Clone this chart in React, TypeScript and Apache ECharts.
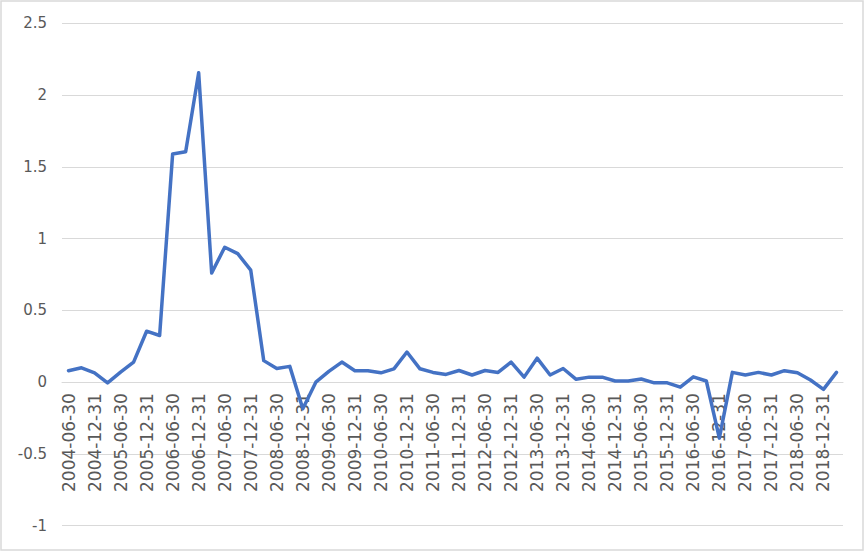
import React, { useEffect, useRef } from "react";
import * as echarts from "echarts";

const categories: string[] = [
  "2004-06-30", "2004-09-30", "2004-12-31", "2005-03-31",
  "2005-06-30", "2005-09-30", "2005-12-31", "2006-03-31",
  "2006-06-30", "2006-09-30", "2006-12-31", "2007-03-31",
  "2007-06-30", "2007-09-30", "2007-12-31", "2008-03-31",
  "2008-06-30", "2008-09-30", "2008-12-31", "2009-03-31",
  "2009-06-30", "2009-09-30", "2009-12-31", "2010-03-31",
  "2010-06-30", "2010-09-30", "2010-12-31", "2011-03-31",
  "2011-06-30", "2011-09-30", "2011-12-31", "2012-03-31",
  "2012-06-30", "2012-09-30", "2012-12-31", "2013-03-31",
  "2013-06-30", "2013-09-30", "2013-12-31", "2014-03-31",
  "2014-06-30", "2014-09-30", "2014-12-31", "2015-03-31",
  "2015-06-30", "2015-09-30", "2015-12-31", "2016-03-31",
  "2016-06-30", "2016-09-30", "2016-12-31", "2017-03-31",
  "2017-06-30", "2017-09-30", "2017-12-31", "2018-03-31",
  "2018-06-30", "2018-09-30", "2018-12-31", "2019-03-31",
];

const values: number[] = [
  0.08, 0.1, 0.065, -0.005, 0.07, 0.14, 0.355, 0.325,
  1.59, 1.605, 2.155, 0.76, 0.94, 0.895, 0.78, 0.15,
  0.095, 0.11, -0.185, 0.0, 0.075, 0.14, 0.08, 0.08,
  0.065, 0.093, 0.21, 0.093, 0.068, 0.054, 0.081, 0.05,
  0.081, 0.068, 0.14, 0.035, 0.167, 0.05, 0.095, 0.02,
  0.035, 0.035, 0.008, 0.008, 0.022, -0.005, -0.005, -0.035,
  0.037, 0.008, -0.39, 0.068, 0.05, 0.068, 0.05, 0.08,
  0.065, 0.015, -0.05, 0.068,
];

const yMin = -1;
const yMax = 2.5;
const yStep = 0.5;

const GRID_TOP = 23.3;
const GRID_BOTTOM = 26.3;
const HEIGHT = 552;

export default function App() {
  const ref = useRef<HTMLDivElement>(null);

  useEffect(() => {
    if (!ref.current) return;
    const chart = echarts.init(ref.current, undefined, { renderer: "svg" });
    const gridH = HEIGHT - GRID_TOP - GRID_BOTTOM;
    const zeroOffset = -((0 - yMin) / (yMax - yMin)) * gridH;
    chart.setOption({
      animation: false,
      backgroundColor: "#ffffff",
      graphic: [
        {
          type: "rect",
          shape: { x: 1, y: 1, width: 862, height: 549 },
          style: { fill: "none", stroke: "#d9d9d9", lineWidth: 1.5 },
          silent: true,
        },
      ],
      grid: {
        left: 62,
        right: 23,
        top: GRID_TOP,
        bottom: GRID_BOTTOM,
        containLabel: false,
        outerBoundsMode: "none",
      },
      xAxis: {
        type: "category",
        data: categories,
        boundaryGap: true,
        position: "bottom",
        offset: zeroOffset,
        z: 1,
        axisLine: { show: true, onZero: false, lineStyle: { color: "#d9d9d9", width: 1 } },
        axisTick: { show: false },
        splitLine: { show: false },
        axisLabel: {
          interval: 1,
          rotate: 90,
          margin: 11,
          color: "#595959",
          fontSize: 17,
          fontFamily: "DejaVu Sans",
        },
      },
      yAxis: {
        type: "value",
        min: yMin,
        max: yMax,
        interval: yStep,
        axisLine: { show: false },
        axisTick: { show: false },
        splitLine: { show: true, lineStyle: { color: "#d9d9d9", width: 1 } },
        axisLabel: {
          margin: 15,
          color: "#595959",
          fontSize: 15,
          fontFamily: "DejaVu Sans",
        },
      },
      series: [
        {
          type: "line",
          data: values,
          z: 5,
          showSymbol: false,
          symbol: "none",
          lineStyle: { color: "#4472C4", width: 3.5, cap: "round", join: "round" },
          itemStyle: { color: "#4472C4" },
        },
      ],
    });
    return () => chart.dispose();
  }, []);

  return (
    <div
      ref={ref}
      style={{ position: "fixed", left: 0, top: 0, width: 866, height: 552 }}
    />
  );
}
